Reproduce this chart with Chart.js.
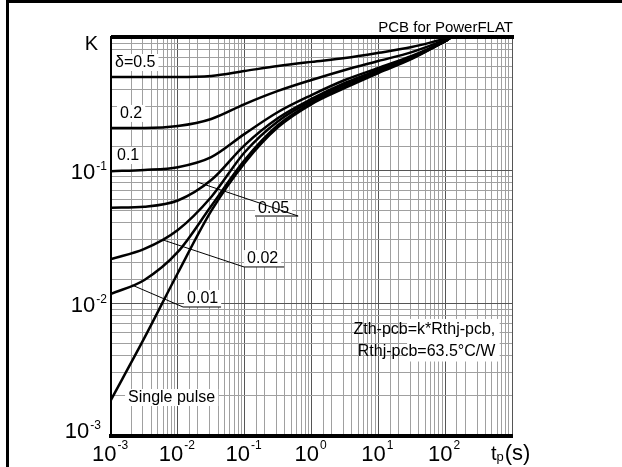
<!DOCTYPE html>
<html>
<head>
<script src="https://cdn.jsdelivr.net/npm/chart.js@4.4.0/dist/chart.umd.min.js"></script>
<title>Thermal impedance PowerFLAT</title>
<style>body{margin:0;background:#fff}</style>
</head>
<body>
<canvas id="chart" width="622" height="467"></canvas>
<script>
// pulse duration tp (s)
const tp = [0.001, 0.00316, 0.01, 0.0316, 0.1, 0.316, 1, 3.16, 10, 31.6, 100, 130, 1000];
// K = Zth / Rthj-pcb for each duty cycle
const kD05   = [0.50, 0.50, 0.50, 0.51, 0.555, 0.605, 0.65, 0.695, 0.76, 0.84, 0.97, 1, 1];
const kD02   = [0.207, 0.207, 0.214, 0.242, 0.313, 0.393, 0.475, 0.565, 0.66, 0.77, 0.95, 1, 1];
const kD01   = [0.098, 0.1, 0.105, 0.125, 0.187, 0.273, 0.366, 0.475, 0.585, 0.72, 0.93, 1, 1];
const kD005  = [0.052, 0.053, 0.059, 0.084, 0.154, 0.246, 0.342, 0.451, 0.565, 0.707, 0.93, 1, 1];
const kD002  = [0.0214, 0.0255, 0.0354, 0.0627, 0.136, 0.233, 0.330, 0.436, 0.555, 0.695, 0.93, 1, 1];
const kD001  = [0.0117, 0.0149, 0.0242, 0.0536, 0.119, 0.218, 0.319, 0.421, 0.546, 0.695, 0.93, 1, 1];
const kSingle = [0.00187, 0.00546, 0.0168, 0.0492, 0.113, 0.210, 0.313, 0.414, 0.536, 0.684, 0.93, 1, 1];
const seriesNames = ['δ=0.5', '0.2', '0.1', '0.05', '0.02', '0.01', 'Single pulse'];
const xTickExps = [-3, -2, -1, 0, 1, 2];
const yTickExps = [-3, -2, -1];

const FONT = '"Liberation Sans", Arial, Helvetica, sans-serif';

// label anchors in log10 units (t, K)
const curveLabels = [
  {text: 'δ=0.5', lt: -2.94, lk: -0.188},
  {text: '0.2', lt: -2.865, lk: -0.571},
  {text: '0.1', lt: -2.91, lk: -0.887},
  {text: '0.05', lt: -0.80, lk: -1.286, ul: [-0.844, -0.20, -1.346], from: [-1.713, -1.09], toEnd: true},
  {text: '0.02', lt: -0.964, lk: -1.662, ul: [-1.009, -0.41, -1.729], from: [-2.222, -1.526]},
  {text: '0.01', lt: -1.862, lk: -1.962, ul: [-1.922, -1.353, -2.03], from: [-2.686, -1.865]},
  {text: 'Single pulse', lt: -2.745, lk: -2.707}
];

function isDecade(v) {
  const l = Math.log10(v);
  return Math.abs(l - Math.round(l)) < 1e-6;
}
const gridColor = c => (c.tick && isDecade(c.tick.value)) ? '#555' : '#a0a0a0';

const decor = {
  id: 'decor',
  beforeDatasetsDraw(chart) {
    const {ctx, scales: {x, y}} = chart;
    const X = v => x.getPixelForValue(Math.pow(10, v));
    const Y = v => y.getPixelForValue(Math.pow(10, v));
    ctx.save();
    ctx.font = '16px ' + FONT;
    ctx.textBaseline = 'middle';
    curveLabels.forEach(l => {
      const w = ctx.measureText(l.text).width;
      const lx = X(l.lt), ly = Y(l.lk);
      ctx.fillStyle = '#fff';
      ctx.fillRect(lx - 3, ly - 8, w + 6, 17);
      ctx.fillStyle = '#000';
      ctx.fillText(l.text, lx, ly + 1);
      if (l.ul) {
        ctx.strokeStyle = '#000';
        ctx.lineWidth = 1;
        const uy = Y(l.ul[2]);
        ctx.beginPath();
        ctx.moveTo(X(l.ul[0]), uy);
        ctx.lineTo(X(l.ul[1]), uy);
        ctx.moveTo(X(l.from[0]), Y(l.from[1]));
        ctx.lineTo(l.toEnd ? X(l.ul[1]) : X(l.ul[0]), uy);
        ctx.stroke();
      }
    });
    // Zth note box
    const bx0 = X(1.43), bx1 = X(3.77 - 1.0);
    ctx.fillStyle = '#fff';
    ctx.fillRect(bx0, Y(-2.12), bx1 - bx0 + 3, Y(-2.44) - Y(-2.12));
    ctx.fillStyle = '#000';
    ctx.textAlign = 'right';
    ctx.fillText('Zth-pcb=k*Rthj-pcb,', X(2.75), Y(-2.203));
    ctx.fillText('Rthj-pcb=63.5°C/W', X(2.75), Y(-2.368));
    ctx.restore();
  },
  afterDraw(chart) {
    const {ctx, chartArea: a, scales: {x, y}} = chart;
    ctx.save();
    ctx.fillStyle = '#000';
    // outer frame (left and top)
    ctx.fillRect(6, 0, 3, 467);
    ctx.fillRect(6, 0, 616, 3);
    // thick top line of plot
    ctx.fillRect(a.left, a.top - 2, a.right - a.left + 2, 4);
    // title
    ctx.font = '15px ' + FONT;
    ctx.textAlign = 'right';
    ctx.textBaseline = 'alphabetic';
    ctx.fillText('PCB for PowerFLAT', a.right + 1, a.top - 5);
    // K label
    ctx.font = '20px ' + FONT;
    ctx.fillText('K', a.left - 13, a.top + 13);
    // x tick labels
    xTickExps.forEach(e => {
      const px = x.getPixelForValue(Math.pow(10, e));
      const sup = String(e).replace('-', '-');
      ctx.font = '22px ' + FONT;
      const w1 = ctx.measureText('10').width;
      ctx.font = '12px ' + FONT;
      const w2 = ctx.measureText(sup).width;
      const x0 = px - (w1 + w2 + 1) / 2 - 1;
      ctx.textAlign = 'left';
      ctx.font = '22px ' + FONT;
      ctx.fillText('10', x0, 461);
      ctx.font = '12px ' + FONT;
      ctx.fillText(sup, x0 + w1 + 1, 449);
    });
    // y tick labels
    yTickExps.forEach(e => {
      const py = y.getPixelForValue(Math.pow(10, e));
      const sup = String(e);
      const base = e === -3 ? py + 2 : py + 9;
      const right = e === -3 ? a.left - 10 : a.left - 4;
      ctx.font = '12px ' + FONT;
      const w2 = ctx.measureText(sup).width;
      ctx.textAlign = 'right';
      ctx.fillText(sup, right, base - 9);
      ctx.font = '22px ' + FONT;
      ctx.fillText('10', right - w2 - 1, base);
    });
    // x axis title tp(s)
    ctx.textAlign = 'left';
    ctx.font = '20px ' + FONT;
    let tx = a.right - 21;
    ctx.fillText('t', tx, 460);
    tx += ctx.measureText('t').width;
    ctx.font = '13px ' + FONT;
    ctx.fillText('p', tx, 461);
    tx += ctx.measureText('p').width + 1;
    ctx.font = '22px ' + FONT;
    ctx.fillText('(s)', tx, 460);
    ctx.restore();
  }
};

const series = [kD05, kD02, kD01, kD005, kD002, kD001, kSingle];
const datasets = series.map((arr, i) => ({
  label: seriesNames[i],
  data: tp.map((t, j) => ({x: t, y: arr[j]})),
  borderColor: '#000',
  borderWidth: 2.5,
  pointRadius: 0,
  fill: false,
  cubicInterpolationMode: 'monotone'
}));

const ctx = document.getElementById('chart').getContext('2d');
new Chart(ctx, {
  type: 'line',
  data: {datasets: datasets},
  options: {
    responsive: false,
    animation: false,
    layout: {padding: {left: 111, top: 37, right: 110, bottom: 31}},
    plugins: {legend: {display: false}, tooltip: {enabled: false}},
    scales: {
      x: {
        type: 'logarithmic', min: 1e-3, max: 1e3,
        ticks: {display: false, autoSkip: false},
        grid: {color: gridColor, drawTicks: false, lineWidth: 1},
        border: {color: '#000', width: 4},
        afterFit: s => { s.height = 0; }
      },
      y: {
        type: 'logarithmic', min: 1e-3, max: 1,
        ticks: {display: false, autoSkip: false},
        grid: {color: gridColor, drawTicks: false, lineWidth: 1},
        border: {color: '#000', width: 2},
        afterFit: s => { s.width = 0; }
      }
    }
  },
  plugins: [decor]
});
</script>
</body>
</html>
